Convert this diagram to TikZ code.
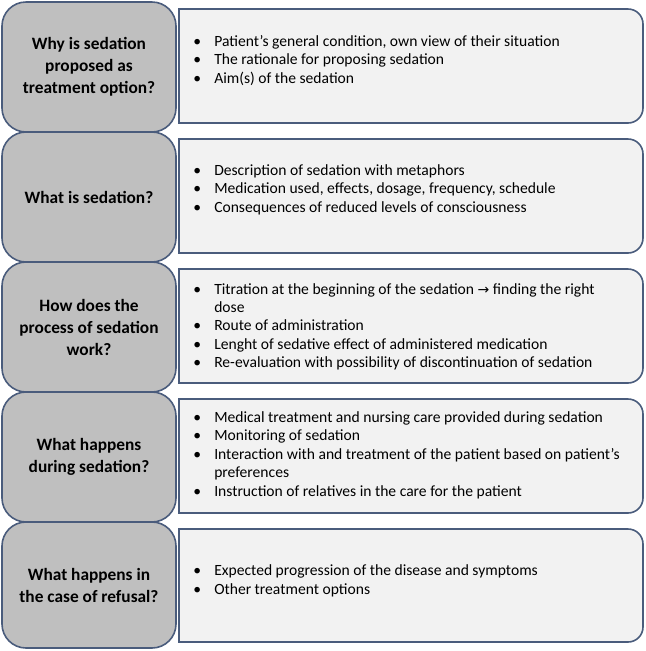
\documentclass[tikz,border=0pt]{standalone}
\usepackage{fontspec}
\setmainfont{Carlito}
\newfontfamily\symf{DejaVu Sans}
\definecolor{edge}{HTML}{4A5C7C}
\definecolor{lfill}{HTML}{BFBFBF}
\definecolor{rfill}{HTML}{F2F2F2}
\newcommand{\ansbox}[2]{%
  \draw[abox] (179,#1) -- (628,#1) arc[start angle=90,end angle=0,radius=11.25pt]
    -- (643,#2-15) arc[start angle=0,end angle=-90,radius=11.25pt] -- (179,#2) -- cycle;}
\begin{document}
\begin{tikzpicture}[x=0.75pt,y=-0.75pt,
  qbox/.style={draw=edge,fill=lfill,line width=1.2pt,rounded corners=18pt,
    minimum width=130.5pt,align=center,inner sep=2pt,
    font=\fontsize{13}{16.5}\selectfont\bfseries},
  abox/.style={draw=edge,fill=rfill,line width=1.2pt},
  alist/.style={anchor=base west,inner sep=0pt,align=left,
    font=\fontsize{11.7}{13.8}\selectfont}]
\useasboundingbox (0,0) rectangle (646,651);
% answer boxes
\ansbox{9}{123}
\ansbox{139}{253}
\ansbox{269}{383}
\ansbox{399}{513}
\ansbox{529}{642}
% question boxes
\node[qbox,minimum height=97.5pt] (q1) at (89,67) {Why is sedation\\proposed as\\treatment option?};
\node[qbox,minimum height=97.5pt] (q2) at (89,197) {What is sedation?};
\node[qbox,minimum height=97.5pt] (q3) at (89,327) {How does the\\process of sedation\\work?};
\node[qbox,minimum height=97.5pt] (q4) at (89,457) {What happens\\during sedation?};
\node[qbox,minimum height=94.5pt] (q5) at (89,585) {What happens in\\the case of refusal?};
% answer texts
\node[alist] (a1) at (193,46.5) {\begin{tabular}[t]{@{}p{15.75pt}@{}l@{}}
\textbullet & Patient’s general condition, own view of their situation\\
\textbullet & The rationale for proposing sedation\\
\textbullet & Aim(s) of the sedation
\end{tabular}};
\node[alist] (a2) at (193,175.5) {\begin{tabular}[t]{@{}p{15.75pt}@{}l@{}}
\textbullet & Description of sedation with metaphors\\
\textbullet & Medication used, effects, dosage, frequency, schedule\\
\textbullet & Consequences of reduced levels of consciousness
\end{tabular}};
\node[alist] (a3) at (193,294) {\begin{tabular}[t]{@{}p{15.75pt}@{}l@{}}
\textbullet & Titration at the beginning of the sedation {\symf\fontsize{10.5}{12}\selectfont →} finding the right\\
 & dose\\
\textbullet & Route of administration\\
\textbullet & Lenght of sedative effect of administered medication\\
\textbullet & Re-evaluation with possibility of discontinuation of sedation
\end{tabular}};
\node[alist] (a4) at (193,422.5) {\begin{tabular}[t]{@{}p{15.75pt}@{}l@{}}
\textbullet & Medical treatment and nursing care provided during sedation\\
\textbullet & Monitoring of sedation\\
\textbullet & Interaction with and treatment of the patient based on patient’s\\
 & preferences\\
\textbullet & Instruction of relatives in the care for the patient
\end{tabular}};
\node[alist] (a5) at (193,575.7) {\begin{tabular}[t]{@{}p{15.75pt}@{}l@{}}
\textbullet & Expected progression of the disease and symptoms\\
\textbullet & Other treatment options
\end{tabular}};
\end{tikzpicture}
\end{document}
